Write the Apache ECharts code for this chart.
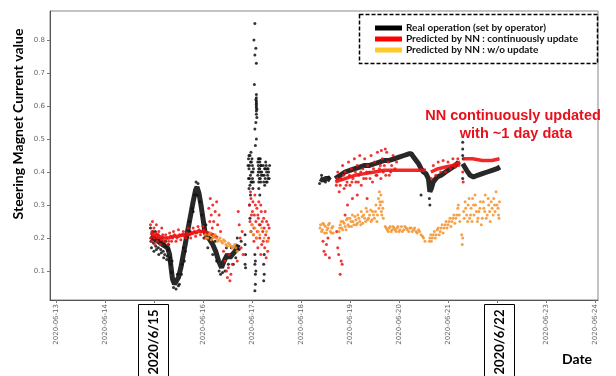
<!DOCTYPE html>
<html><head><meta charset="utf-8">
<script src="https://cdn.jsdelivr.net/npm/echarts@6/dist/echarts.min.js"></script>
<style>html,body{margin:0;padding:0;background:#fff}#c{width:616px;height:376px}</style>
</head><body><div id="c"></div>
<script>
// x values = day of June 2020 (fractional), y = steering magnet current value
const dayTicks = [13,14,15,16,17,18,19,20,21,22,23,24];
const dayTickLabels = ['2020-06-13','2020-06-14','2020-06-15','2020-06-16','2020-06-17','2020-06-18','2020-06-19','2020-06-20','2020-06-21','2020-06-22','2020-06-23','2020-06-24'];
const valueTicks = [0.1,0.2,0.3,0.4,0.5,0.6,0.7,0.8];
const seriesNames = ['Real operation (set by operator)','Predicted by NN : continuously update','Predicted by NN : w/o update'];

// Real operation: dense band (trend) and scattered points
const realCore = [
 [14.93,0.205],[14.98,0.20],[15.03,0.195],[15.08,0.19],[15.13,0.185],[15.18,0.18],[15.23,0.175],[15.28,0.17],[15.32,0.15],[15.35,0.11],[15.38,0.075],[15.42,0.06],[15.46,0.065],[15.5,0.08],[15.55,0.11],[15.6,0.15],[15.65,0.19],[15.7,0.23],[15.75,0.27],[15.8,0.31],[15.85,0.345],[15.88,0.355],[15.92,0.335],[15.96,0.30],[16.0,0.26],[16.04,0.22],[16.08,0.205],[16.14,0.195],[16.2,0.18],[16.26,0.16],[16.32,0.13],[16.38,0.11],[16.43,0.13],[16.5,0.15],[16.55,0.14],[16.6,0.15],[16.66,0.16],[16.72,0.18],
 null,
 [18.39,0.38],[18.45,0.375],[18.5,0.38],[18.55,0.38],[18.6,0.375],
 null,
 [18.7,0.38],[18.8,0.39],[18.9,0.40],[19.0,0.405],[19.1,0.41],[19.2,0.415],[19.3,0.42],[19.4,0.42],[19.5,0.425],[19.6,0.43],[19.7,0.435],[19.8,0.435],[19.9,0.44],[20.0,0.445],[20.1,0.45],[20.2,0.455],[20.25,0.455],[20.3,0.445],[20.35,0.435],[20.4,0.425],[20.45,0.41],[20.5,0.40],[20.55,0.395],[20.6,0.38],[20.63,0.34],[20.66,0.35],[20.7,0.37],[20.78,0.385],[20.86,0.39],[20.95,0.40],[21.05,0.41],[21.15,0.42],[21.22,0.43],
 null,
 [21.3,0.425],[21.38,0.405],[21.45,0.39],[21.52,0.385],[21.6,0.39],[21.7,0.395],[21.8,0.40],[21.9,0.405],[22.0,0.41],[22.06,0.415]
];
const realPts = [
 [14.93,0.23],[14.95,0.17],[14.98,0.22],[15.0,0.16],[15.03,0.22],[15.05,0.165],[15.08,0.21],[15.1,0.15],[15.13,0.2],[15.15,0.155],[15.18,0.20],[15.2,0.14],[15.24,0.19],[15.26,0.135],[15.3,0.18],[15.31,0.13],
 [14.94,0.19],[14.96,0.215],[14.99,0.185],[15.01,0.205],[15.04,0.175],[15.06,0.2],[15.09,0.17],[15.11,0.195],[15.14,0.165],[15.16,0.19],[15.19,0.16],[15.21,0.185],[15.22,0.15],[15.25,0.175],[15.27,0.145],[15.29,0.165],[15.33,0.14],[15.34,0.12],[15.36,0.095],[15.37,0.13],
 [15.45,0.045],[15.4,0.05],[15.52,0.06],[15.56,0.09],[15.62,0.13],[15.86,0.37],[15.9,0.365],[15.88,0.33],
 [15.48,0.09],[15.5,0.055],[15.58,0.12],[15.6,0.17],[15.64,0.16],[15.66,0.21],[15.72,0.25],[15.74,0.22],[15.78,0.29],[15.8,0.28],[15.83,0.33],[15.94,0.31],[15.98,0.27],[16.01,0.23],
 [16.02,0.20],[16.06,0.24],[16.1,0.17],[16.17,0.2],[16.2,0.15],[16.25,0.19],[16.28,0.13],[16.33,0.1],[16.36,0.09],[16.4,0.095],[16.45,0.1],[16.48,0.17],[16.52,0.12],[16.58,0.17],[16.62,0.12],[16.67,0.14],[16.7,0.2],[16.74,0.165],[16.78,0.19],
 [16.86,0.21],[16.86,0.18],[16.87,0.15],[16.86,0.12],[16.87,0.11],
 [16.93,0.44],[16.94,0.41],[16.95,0.38],[16.96,0.36],[16.97,0.43],[16.98,0.46],[16.99,0.40],[17.0,0.37],[17.01,0.42],[17.02,0.35],[16.95,0.30],[16.96,0.26],[16.98,0.22],[16.94,0.45],[16.97,0.39],[17.0,0.44],[17.02,0.40],
 [16.92,0.42],[16.93,0.38],[16.95,0.42],[16.96,0.45],[16.98,0.37],[16.99,0.43],[17.01,0.38],[17.03,0.41],[17.03,0.37],[16.94,0.35],[16.97,0.33],
 [17.06,0.15],[17.06,0.12],[17.07,0.09],[17.07,0.06],[17.06,0.04],[17.07,0.13],[17.08,0.10],
 [17.06,0.85],[17.04,0.80],[17.08,0.775],[17.06,0.755],[17.09,0.73],[17.05,0.665],[17.09,0.635],[17.08,0.62],[17.09,0.61],[17.09,0.60],[17.1,0.59],[17.09,0.575],[17.1,0.565],[17.08,0.55],[17.06,0.53],[17.09,0.50],[17.07,0.48],
 [17.09,0.625],[17.09,0.615],[17.09,0.605],[17.09,0.595],[17.09,0.585],
 [17.12,0.43],[17.13,0.40],[17.14,0.37],[17.15,0.44],[17.16,0.41],[17.17,0.38],[17.18,0.42],[17.14,0.35],[17.19,0.39],[17.16,0.33],[17.13,0.42],[17.17,0.40],
 [17.12,0.39],[17.13,0.44],[17.15,0.38],[17.16,0.43],[17.18,0.37],[17.19,0.42],[17.2,0.40],[17.14,0.41],[17.17,0.44],
 [17.23,0.42],[17.25,0.39],[17.26,0.36],[17.28,0.43],[17.3,0.40],[17.31,0.37],[17.33,0.41],[17.35,0.38],[17.27,0.41],[17.32,0.39],[17.24,0.12],[17.25,0.09],[17.24,0.07],[17.25,0.15],
 [17.22,0.39],[17.24,0.37],[17.26,0.41],[17.27,0.38],[17.29,0.42],[17.31,0.41],[17.33,0.38],[17.34,0.40],[17.36,0.42],[17.29,0.37],
 [18.42,0.39],[18.38,0.365],[18.5,0.37],[18.57,0.385],
 [21.3,0.49],[21.3,0.47],[21.3,0.45],[21.31,0.44],[21.3,0.38],[20.62,0.32],[20.63,0.30],[20.45,0.33]
];

// NN continuously updated
const nnCore = [
 [14.93,0.215],[15.0,0.21],[15.1,0.205],[15.2,0.20],[15.3,0.20],[15.4,0.205],[15.5,0.205],[15.6,0.21],[15.7,0.21],[15.8,0.215],[15.9,0.22],[16.0,0.22],[16.1,0.215],[16.2,0.21],[16.3,0.20],
 null,
 [18.7,0.37],[18.9,0.38],[19.1,0.39],[19.3,0.395],[19.5,0.40],[19.7,0.405],[19.9,0.405],[20.1,0.405],[20.3,0.405],[20.5,0.405],[20.55,0.405],
 null,
 [20.65,0.40],[20.8,0.41],[20.95,0.415],[21.1,0.42],[21.25,0.43],
 null,
 [21.3,0.44],[21.5,0.44],[21.7,0.435],[21.9,0.435],[22.05,0.44]
];
const nnPts = [
 [14.93,0.24],[14.95,0.19],[14.97,0.25],[15.0,0.23],[15.02,0.18],[15.05,0.24],[15.07,0.19],[15.1,0.22],[15.13,0.18],[15.16,0.23],[15.2,0.19],[15.24,0.21],[15.28,0.18],[15.32,0.215],[15.36,0.19],[15.4,0.22],[15.45,0.19],[15.5,0.225],[15.55,0.195],[15.6,0.22],[15.65,0.2],[15.7,0.23],[15.75,0.2],[15.8,0.23],[15.85,0.205],[15.9,0.235],[15.95,0.21],[16.0,0.235],[16.05,0.2],
 [14.94,0.2],[14.96,0.22],[14.99,0.205],[15.01,0.2],[15.04,0.215],[15.06,0.2],[15.09,0.21],[15.12,0.2],[15.15,0.195],[15.18,0.21],[15.22,0.19],[15.26,0.2],[15.3,0.19],[15.34,0.205],[15.38,0.2],[15.42,0.21],[15.47,0.2],[15.52,0.21],[15.57,0.21],[15.62,0.205],[15.67,0.215],[15.72,0.21],[15.77,0.215],[15.82,0.22],[15.87,0.215],[15.92,0.225],[15.97,0.22],[16.02,0.225],[16.07,0.215],
 [16.12,0.29],[16.15,0.32],[16.17,0.27],[16.2,0.30],[16.22,0.25],[16.25,0.28],[16.28,0.31],[16.3,0.24],[16.33,0.27],[16.36,0.22],[16.14,0.25],[16.19,0.23],
 [16.42,0.16],[16.45,0.13],[16.48,0.1],[16.5,0.08],[16.52,0.11],[16.55,0.07],[16.57,0.09],[16.6,0.12],[16.53,0.15],
 [16.72,0.28],[16.74,0.24],[16.76,0.2],[16.78,0.17],[16.8,0.22],[16.82,0.15],[16.7,0.13],
 [16.95,0.3],[16.97,0.34],[16.99,0.27],[17.0,0.24],[17.02,0.31],[17.03,0.21],[17.05,0.27],[17.06,0.33],[17.08,0.25],[17.1,0.29],[17.11,0.22],[17.13,0.26],[17.14,0.31],[17.16,0.2],[17.17,0.24],[17.19,0.28],[17.2,0.18],[17.22,0.22],[17.24,0.26],[17.26,0.17],[17.28,0.21],[17.3,0.25],[17.32,0.16],[17.34,0.2],[17.35,0.23],[17.04,0.19],[17.12,0.17],[17.29,0.14],[17.18,0.15],
 [16.96,0.25],[16.98,0.32],[17.01,0.28],[17.04,0.23],[17.07,0.3],[17.09,0.2],[17.12,0.27],[17.15,0.24],[17.18,0.3],[17.21,0.25],[17.23,0.19],[17.25,0.23],[17.27,0.28],[17.31,0.19],[17.33,0.24],
 [18.45,0.19],[18.47,0.16],[18.5,0.15],[18.52,0.18],[18.55,0.2],[18.58,0.14],[18.73,0.22],[18.75,0.17],[18.77,0.15],[18.79,0.2],[18.82,0.13],[18.84,0.12],[18.8,0.09],
 [18.72,0.36],[18.75,0.40],[18.78,0.34],[18.82,0.38],[18.85,0.42],[18.88,0.35],[18.9,0.40],[18.94,0.37],[18.97,0.43],[19.0,0.36],[19.03,0.41],[19.06,0.38],[19.09,0.44],[19.12,0.37],[19.15,0.42],[19.18,0.39],[19.2,0.45],[19.23,0.36],[19.26,0.41],[19.3,0.44],[19.33,0.38],[19.36,0.42],[19.4,0.40],[19.43,0.45],[19.46,0.37],[19.5,0.43],[19.53,0.39],[19.56,0.46],[19.6,0.41],[19.63,0.38],[19.66,0.44],[19.7,0.42],[19.75,0.46],[19.8,0.39],[19.85,0.42],
 [18.74,0.38],[18.8,0.36],[18.87,0.39],[18.92,0.36],[18.99,0.39],[19.04,0.37],[19.11,0.40],[19.17,0.37],[19.22,0.40],[19.28,0.38],[19.34,0.40],[19.41,0.38],[19.48,0.41],[19.55,0.39],[19.62,0.42],[19.68,0.40],[19.73,0.39],[19.78,0.43],[19.83,0.40],[19.88,0.45],[19.92,0.41],[19.95,0.43],[19.72,0.47],[19.64,0.465],
 [18.95,0.30],[19.05,0.32],[19.15,0.33],[19.35,0.32],[18.9,0.27],
 [20.66,0.38],[20.7,0.42],[20.75,0.39],[20.8,0.43],[20.85,0.40],[20.9,0.435],[20.95,0.4],[21.0,0.43],[21.05,0.41],[21.1,0.44],[21.15,0.415],[21.2,0.44],[21.22,0.42],
 [21.3,0.40],[21.31,0.37]
];

// NN without update
const woPts = [
 [16.05,0.21],[16.1,0.2],[16.15,0.215],[16.2,0.2],[16.25,0.21],[16.3,0.19],[16.35,0.2],[16.4,0.185],[16.45,0.19],[16.5,0.175],[16.55,0.18],[16.6,0.17],[16.65,0.18],[16.7,0.16],
 [16.07,0.2],[16.12,0.21],[16.17,0.195],[16.22,0.205],[16.27,0.2],[16.32,0.195],[16.37,0.19],[16.42,0.195],[16.47,0.18],[16.52,0.185],[16.57,0.175],[16.62,0.175],[16.67,0.17],
 [16.97,0.22],[17.0,0.24],[17.03,0.21],[17.06,0.23],[17.1,0.2],[17.13,0.22],[17.16,0.21],[17.2,0.23],[17.25,0.2],[17.3,0.22],[17.33,0.19],
 [18.39,0.23],[18.42,0.22],[18.45,0.245],[18.48,0.215],[18.5,0.235],[18.53,0.225],[18.56,0.24],[18.6,0.22],[18.63,0.23],[18.66,0.215],
 [18.4,0.24],[18.44,0.225],[18.47,0.24],[18.52,0.215],[18.55,0.23],[18.58,0.245],[18.62,0.215],[18.65,0.235],
 [18.78,0.22],[18.8,0.24],[18.83,0.23],[18.86,0.25],[18.9,0.235],[18.93,0.255],[18.96,0.24],[19.0,0.26],[19.03,0.235],[19.06,0.25],[19.1,0.265],[19.13,0.24],[19.16,0.27],[19.2,0.25],[19.23,0.28],[19.26,0.245],[19.3,0.26],[19.33,0.29],[19.36,0.255],[19.4,0.27],[19.43,0.25],[19.46,0.28],[19.5,0.26],[19.53,0.3],[19.56,0.27],[19.58,0.32],[19.6,0.34],[19.62,0.3],[19.64,0.28],[19.66,0.31],[19.68,0.26],
 [18.79,0.23],[18.82,0.25],[18.85,0.225],[18.88,0.245],[18.92,0.225],[18.95,0.26],[18.98,0.235],[19.02,0.25],[19.05,0.27],[19.08,0.24],[19.12,0.255],[19.15,0.245],[19.18,0.26],[19.22,0.24],[19.25,0.265],[19.28,0.27],[19.32,0.25],[19.35,0.28],[19.38,0.26],[19.42,0.285],[19.45,0.255],[19.48,0.27],[19.52,0.28],[19.55,0.25],[19.59,0.29],[19.61,0.31],[19.63,0.33],[19.65,0.27],[19.67,0.29],
 [19.72,0.235],[19.76,0.225],[19.8,0.23],[19.84,0.22],[19.88,0.235],[19.92,0.225],[19.96,0.23],[20.0,0.22],[20.05,0.235],[20.1,0.225],[20.15,0.23],[20.2,0.22],[20.25,0.23],[20.3,0.225],[20.35,0.22],[20.4,0.225],[20.45,0.21],[20.5,0.2],[20.53,0.19],
 [19.74,0.23],[19.78,0.22],[19.82,0.235],[19.86,0.225],[19.9,0.23],[19.94,0.22],[19.98,0.235],[20.02,0.225],[20.07,0.22],[20.12,0.235],[20.17,0.225],[20.22,0.23],[20.27,0.22],[20.32,0.23],[20.37,0.215],[20.42,0.22],[20.48,0.205],
 [20.62,0.19],[20.65,0.21],[20.68,0.2],[20.72,0.22],[20.76,0.21],[20.8,0.23],[20.84,0.22],[20.88,0.24],[20.92,0.23],[20.96,0.25],[21.0,0.24],[21.04,0.26],[21.08,0.25],[21.12,0.27],[21.16,0.26],[21.2,0.29],[21.23,0.27],
 [20.63,0.2],[20.66,0.19],[20.7,0.21],[20.74,0.2],[20.78,0.225],[20.82,0.21],[20.86,0.23],[20.9,0.215],[20.94,0.24],[20.98,0.23],[21.02,0.25],[21.06,0.235],[21.1,0.26],[21.14,0.245],[21.18,0.27],[21.21,0.3],[21.24,0.25],
 [21.28,0.21],[21.29,0.18],[21.3,0.2],
 [21.32,0.28],[21.35,0.31],[21.38,0.27],[21.41,0.3],[21.44,0.26],[21.47,0.29],[21.5,0.32],[21.53,0.27],[21.56,0.3],[21.6,0.25],[21.63,0.28],[21.66,0.31],[21.7,0.26],[21.73,0.29],[21.76,0.33],[21.8,0.27],[21.83,0.3],[21.86,0.25],[21.9,0.29],[21.93,0.32],[21.96,0.28],[22.0,0.3],[22.03,0.27],[22.05,0.31],
 [21.33,0.26],[21.36,0.29],[21.4,0.25],[21.43,0.32],[21.46,0.27],[21.49,0.25],[21.52,0.3],[21.55,0.33],[21.58,0.28],[21.61,0.26],[21.65,0.29],[21.68,0.24],[21.72,0.31],[21.75,0.28],[21.78,0.26],[21.82,0.32],[21.85,0.28],[21.88,0.31],[21.92,0.27],[21.95,0.3],[21.98,0.34],[22.02,0.29],[22.04,0.26]
];

const BLACK = '#111111', RED = '#ee1111', ORANGE = '#f5922a', LEG_ORANGE = '#ffc000';

const chart = echarts.init(document.getElementById('c'), null, {renderer: 'canvas'});
chart.setOption({
  animation: false,
  backgroundColor: '#ffffff',
  grid: {left: 50, right: 18, top: 11, bottom: 76, show: true, borderColor: '#888', borderWidth: 1},
  xAxis: {
    type: 'value', min: 12.88, max: 24.06,
    axisLine: {lineStyle: {color: '#555'}},
    axisTick: {customValues: dayTicks, length: 3, lineStyle: {color: '#777'}},
    axisLabel: {customValues: dayTicks, rotate: 90, fontSize: 7, color: '#666', margin: 4,
      fontFamily: 'DejaVu Sans',
      formatter: v => dayTickLabels[dayTicks.indexOf(Math.round(v))] || ''},
    splitLine: {show: false}
  },
  yAxis: {
    type: 'value', min: 0.012, max: 0.888,
    axisLine: {show: true, lineStyle: {color: '#555'}},
    axisTick: {show: true, customValues: valueTicks, length: 3, lineStyle: {color: '#777'}},
    axisLabel: {customValues: valueTicks, fontSize: 7, color: '#666', margin: 5, fontFamily: 'DejaVu Sans',
      formatter: v => v.toFixed(1)},
    splitLine: {show: false}
  },
  legend: {
    orient: 'vertical', left: 370, top: 18, itemWidth: 27, itemHeight: 5, itemGap: 1,
    icon: 'rect', selectedMode: false,
    textStyle: {fontFamily: 'Lato', fontWeight: 'bold', fontSize: 10, color: '#111', padding: [0,0,0,-1]},
    data: [
      {name: seriesNames[0], itemStyle: {color: '#000'}},
      {name: seriesNames[1], itemStyle: {color: '#ff0000'}},
      {name: seriesNames[2], itemStyle: {color: LEG_ORANGE}}
    ]
  },
  series: [
    {name: seriesNames[0], type: 'line', data: realCore, showSymbol: false, connectNulls: false,
     lineStyle: {color: BLACK, width: 5, opacity: 0.9}, itemStyle: {color: BLACK}, z: 2},
    {name: seriesNames[0], type: 'scatter', data: realPts, symbolSize: 3,
     itemStyle: {color: BLACK, opacity: 0.85}, z: 2},
    {name: seriesNames[1], type: 'line', data: nnCore, showSymbol: false, connectNulls: false,
     lineStyle: {color: RED, width: 3.5, opacity: 0.9}, itemStyle: {color: RED}, z: 3},
    {name: seriesNames[1], type: 'scatter', data: nnPts, symbolSize: 3,
     itemStyle: {color: RED, opacity: 0.85}, z: 3},
    {name: seriesNames[2], type: 'scatter', data: woPts, symbolSize: 3,
     itemStyle: {color: ORANGE, opacity: 0.85}, z: 4}
  ],
  graphic: [
    {type: 'rect', z: 100, shape: {x: 359.5, y: 14.5, width: 238, height: 49},
     style: {fill: null, stroke: '#000', lineWidth: 1.5, lineDash: [4, 2]}},
    {type: 'text', z: 100, x: 18, y: 124, rotation: Math.PI / 2,
     style: {text: 'Steering Magnet Current value', font: 'bold 14px Lato', fill: '#000', align: 'center', verticalAlign: 'middle'}},
    {type: 'text', z: 100, x: 577, y: 359,
     style: {text: 'Date', font: 'bold 14px Lato', fill: '#000', align: 'center', verticalAlign: 'middle'}},
    {type: 'rect', z: 100, shape: {x: 138.5, y: 304.5, width: 30, height: 80}, style: {fill: '#fff', stroke: '#000', lineWidth: 1}},
    {type: 'text', z: 101, x: 153.5, y: 342, rotation: Math.PI / 2,
     style: {text: '2020/6/15', font: 'bold 13px Lato', fill: '#000', align: 'center', verticalAlign: 'middle'}},
    {type: 'rect', z: 100, shape: {x: 484.5, y: 304.5, width: 30, height: 80}, style: {fill: '#fff', stroke: '#000', lineWidth: 1}},
    {type: 'text', z: 101, x: 499.5, y: 342, rotation: Math.PI / 2,
     style: {text: '2020/6/22', font: 'bold 13px Lato', fill: '#000', align: 'center', verticalAlign: 'middle'}},
    {type: 'text', z: 100, x: 513, y: 116,
     style: {text: 'NN continuously updated', font: 'bold 14.5px "Liberation Sans"', fill: '#e8101a', align: 'center', verticalAlign: 'middle'}},
    {type: 'text', z: 100, x: 516, y: 134,
     style: {text: 'with ~1 day data', font: 'bold 14.5px "Liberation Sans"', fill: '#e8101a', align: 'center', verticalAlign: 'middle'}}
  ]
});
</script></body></html>
